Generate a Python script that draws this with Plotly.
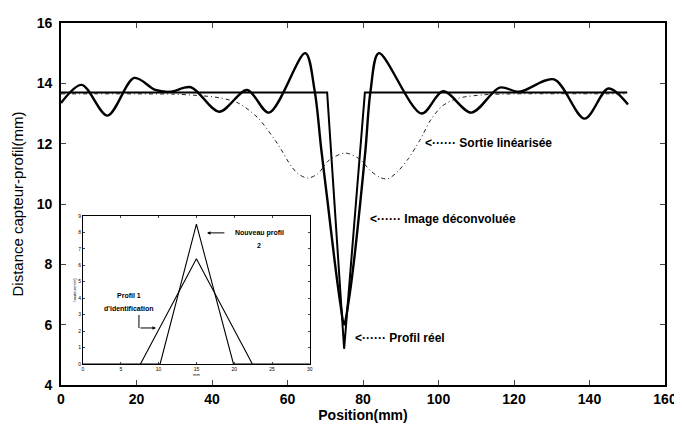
import plotly.graph_objects as go

# ---------------- data ----------------
# Image déconvoluée (solid oscillating curve)
deconv_x = [0, 5.5, 12.3, 19.4, 25, 29, 34.4, 41.9, 49.3, 55.1, 64.7, 67.2, 68.9,
            70.5, 72.5, 74.0, 75.0, 76.1, 77.6, 79.4, 80.7, 82.0, 84.2,
            95.5, 101.2, 108.7, 116.2, 121.4, 130.6, 138.7, 145.0, 150.2]
deconv_y = [13.35, 13.95, 12.93, 14.18, 13.78, 13.72, 13.87, 13.06, 13.78, 13.03, 15.0, 13.75, 11.86,
            10.2, 8.1, 6.7, 6.0, 6.7, 8.1, 10.2, 11.86, 13.75, 15.0,
            13.0, 13.74, 13.03, 13.86, 13.72, 14.13, 12.83, 13.83, 13.3]

# Profil réel
reel_x = [0, 70.5, 75.0, 80.5, 150]
reel_y = [13.7, 13.7, 5.2, 13.7, 13.7]

# Sortie linéarisée (dash-dot)
sortie_x = [0, 20, 30, 36, 42, 46.9, 52.2, 57.5, 61, 63, 65.4, 68, 71, 75.2, 79, 82, 84.5, 86.5,
            89, 92, 95, 98, 101, 105, 112, 120, 150]
sortie_y = [13.65, 13.65, 13.64, 13.6, 13.52, 13.35, 12.85, 11.97, 11.25, 10.98, 10.86, 11.0, 11.45,
            11.69, 11.5, 11.1, 10.88, 10.83, 11.05, 11.5, 12.1, 12.8, 13.25, 13.5, 13.62, 13.65, 13.65]

# Inset: identification profiles
inset_p2_x = [0, 10.2, 15.0, 19.9, 30]
inset_p2_y = [0, 0, 8.5, 0, 0]
inset_p1_x = [7.6, 15.0, 22.4]
inset_p1_y = [0, 6.4, 0]

x_ticks = [0, 20, 40, 60, 80, 100, 120, 140, 160]
y_ticks = [4, 6, 8, 10, 12, 14, 16]
inset_x_ticks = [0, 5, 10, 15, 20, 25, 30]
inset_y_ticks = [0, 1, 2, 3, 4, 5, 6, 7, 8, 9]

FONT = "Liberation Sans, Arial, sans-serif"

fig = go.Figure()
fig.add_trace(go.Scatter(x=sortie_x, y=sortie_y, mode="lines",
                         line=dict(color="#222", width=1, dash="4px,3px,1px,3px", shape="spline", smoothing=0.8),
                         showlegend=False, hoverinfo="skip"))
fig.add_trace(go.Scatter(x=reel_x, y=reel_y, mode="lines",
                         line=dict(color="black", width=2),
                         showlegend=False, hoverinfo="skip"))
fig.add_trace(go.Scatter(x=deconv_x, y=deconv_y, mode="lines",
                         line=dict(color="black", width=2.4, shape="spline", smoothing=0.9),
                         showlegend=False, hoverinfo="skip"))

# inset traces
fig.add_trace(go.Scatter(x=inset_p2_x, y=inset_p2_y, mode="lines", xaxis="x2", yaxis="y2",
                         line=dict(color="black", width=1.1), showlegend=False, hoverinfo="skip"))
fig.add_trace(go.Scatter(x=inset_p1_x, y=inset_p1_y, mode="lines", xaxis="x2", yaxis="y2",
                         line=dict(color="black", width=1.1), showlegend=False, hoverinfo="skip"))

ann_font = dict(family=FONT, size=12, color="black", weight="bold")
small = dict(family=FONT, size=7, color="black", weight="bold")
annotations = [
    dict(x=95.9, y=12.02, xref="x", yref="y", text="<······ Sortie linéarisée", showarrow=False,
         xanchor="left", yanchor="middle", font=ann_font),
    dict(x=81.3, y=9.5, xref="x", yref="y", text="<······ Image déconvoluée", showarrow=False,
         xanchor="left", yanchor="middle", font=ann_font),
    dict(x=77.4, y=5.56, xref="x", yref="y", text="<······ Profil réel", showarrow=False,
         xanchor="left", yanchor="middle", font=ann_font),
    dict(x=23.3, y=7.95, xref="x2", yref="y2", text="Nouveau profil", showarrow=False,
         xanchor="center", yanchor="middle", font=small),
    dict(x=23.3, y=7.2, xref="x2", yref="y2", text="2", showarrow=False,
         xanchor="center", yanchor="middle", font=small),
    dict(x=6.1, y=4.15, xref="x2", yref="y2", text="Profil 1", showarrow=False,
         xanchor="center", yanchor="middle", font=small),
    dict(x=6.1, y=3.35, xref="x2", yref="y2", text="d'identification", showarrow=False,
         xanchor="center", yanchor="middle", font=small),
    dict(x=16.4, y=7.97, xref="x2", yref="y2", ax=18.9, ay=7.97, axref="x2", ayref="y2",
         text="", showarrow=True, arrowhead=2, arrowsize=0.7, arrowwidth=1, arrowcolor="black"),
    dict(x=9.65, y=2.19, xref="x2", yref="y2", ax=7.4, ay=2.19, axref="x2", ayref="y2",
         text="", showarrow=True, arrowhead=2, arrowsize=0.7, arrowwidth=1, arrowcolor="black"),
]

shapes = [
    dict(type="line", xref="x2", yref="y2", x0=7.4, y0=2.98, x1=7.4, y1=2.19,
         line=dict(color="black", width=1)),
]

fig.update_layout(
    width=682, height=425, autosize=False,
    margin=dict(l=53, r=25, t=15, b=48, autoexpand=False),
    paper_bgcolor="white", plot_bgcolor="white",
    font=dict(family=FONT, color="black"),
    annotations=annotations, shapes=shapes,
    xaxis=dict(range=[0, 160], tickvals=x_ticks, ticks="inside", ticklen=5, tickwidth=1.2,
               showline=True, linecolor="black", linewidth=1.6, mirror="ticks",
               showgrid=False, zeroline=False, automargin=False,
               tickfont=dict(family=FONT, size=14, color="black", weight="bold"),
               title=dict(text="Position(mm)", font=dict(family=FONT, size=14, weight="bold"), standoff=4)),
    yaxis=dict(range=[4, 16], tickvals=y_ticks, ticks="inside", ticklen=5, tickwidth=1.2,
               showline=True, linecolor="black", linewidth=1.6, mirror="ticks",
               showgrid=False, zeroline=False, ticklabelstandoff=4, automargin=False,
               tickfont=dict(family=FONT, size=14, color="black", weight="bold"),
               title=dict(text="Distance capteur-profil(mm)", font=dict(family=FONT, size=15), standoff=10)),
    xaxis2=dict(domain=[0.0364, 0.412], anchor="y2", range=[0, 30], tickvals=inset_x_ticks,
                ticks="inside", ticklen=2, tickwidth=0.8, showline=True, linecolor="black", linewidth=1,
                mirror="ticks", showgrid=False, zeroline=False, automargin=False,
                tickfont=dict(family=FONT, size=5, color="black"),
                title=dict(text="mm", font=dict(family=FONT, size=4), standoff=1)),
    yaxis2=dict(domain=[0.058, 0.467], anchor="x2", range=[0, 9], tickvals=inset_y_ticks,
                ticks="inside", ticklen=2, tickwidth=0.8, showline=True, linecolor="black", linewidth=1,
                mirror="ticks", showgrid=False, zeroline=False, automargin=False,
                tickfont=dict(family=FONT, size=5, color="black"),
                title=dict(text="hauteur(mm)", font=dict(family=FONT, size=4), standoff=1)),
)

fig.write_html("out.html")
